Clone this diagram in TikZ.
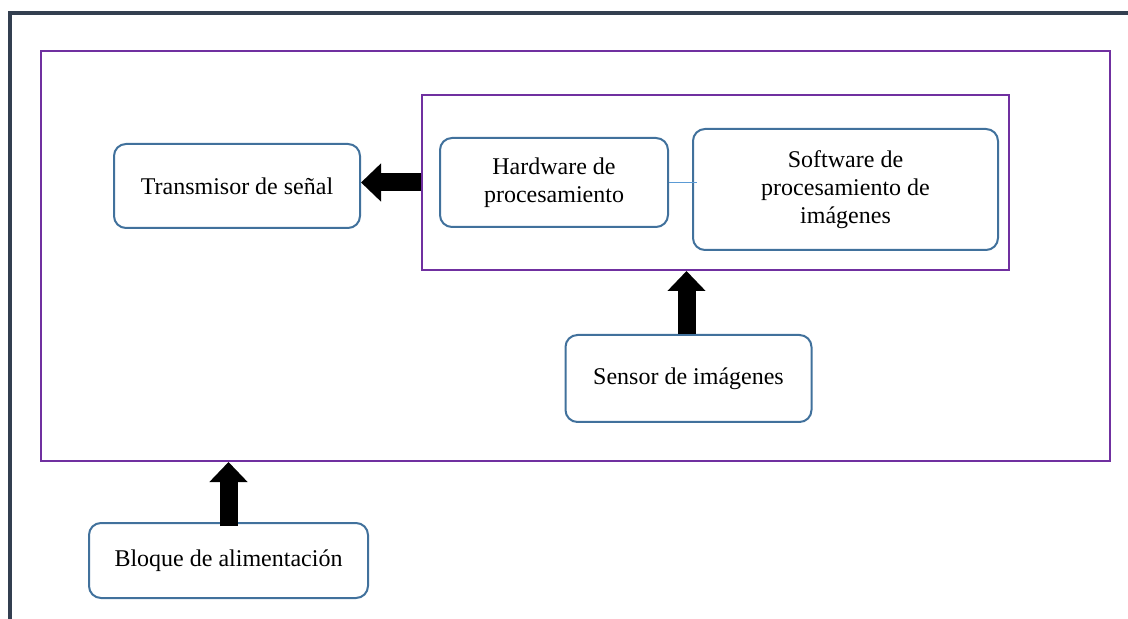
\documentclass[tikz,border=0pt]{standalone}
\usepackage{fontspec}
\setmainfont{Liberation Serif}
\usetikzlibrary{arrows.meta}
\definecolor{marco}{HTML}{333F50}
\definecolor{morado}{HTML}{7030A0}
\definecolor{azul}{HTML}{41719C}
\definecolor{celeste}{HTML}{5B9BD5}
\begin{document}
\begin{tikzpicture}[x=0.5pt,y=-0.5pt,
  caja/.style={draw=azul,line width=1pt,rounded corners=6pt,align=center,
    font=\fontsize{12}{14}\selectfont,inner sep=0pt},
  marcomor/.style={draw=morado,line width=1pt,inner sep=0pt},
  flecha/.style={line width=9pt,-{Triangle[width=18.5pt,length=10pt]}}]
\useasboundingbox (0,0) rectangle (1128,619);
\draw[marco,line width=2pt] (1128,13) -- (9.5,13) -- (9.5,619);
\node (externo) [marcomor,minimum width=534.5pt,minimum height=205pt] at (575.5,256) {};
\node (proc) [marcomor,minimum width=293.5pt,minimum height=87.5pt] at (715.5,182.5) {};
\node (tx) [caja,minimum width=123pt,minimum height=42pt] at (237,186) {Transmisor de señal};
\node (hw) [caja,minimum width=114pt,minimum height=44.5pt] at (554,182.5) {Hardware de\\procesamiento};
\node (sw) [caja,minimum width=152.5pt,minimum height=60.5pt] at (845.5,189.5) {Software de\\procesamiento de\\imágenes};
\node (sen) [caja,minimum width=123pt,minimum height=43.5pt] at (688.5,378.5) {Sensor de imágenes};
\node (alim) [caja,minimum width=139.5pt,minimum height=37.5pt] at (228.5,560.5) {Bloque de alimentación};
\draw[celeste,line width=0.6pt] (hw.east) -- ([xshift=2.5pt]hw.east -| sw.west);
\draw[flecha] (proc.west |- hw) -- (tx.east |- hw);
\draw[flecha] ([xshift=-1pt]sen.north) -- ([xshift=-1pt]sen.north |- proc.south);
\draw[flecha] ([yshift=-2pt]alim.north) -- (alim.north |- externo.south);
\end{tikzpicture}
\end{document}
